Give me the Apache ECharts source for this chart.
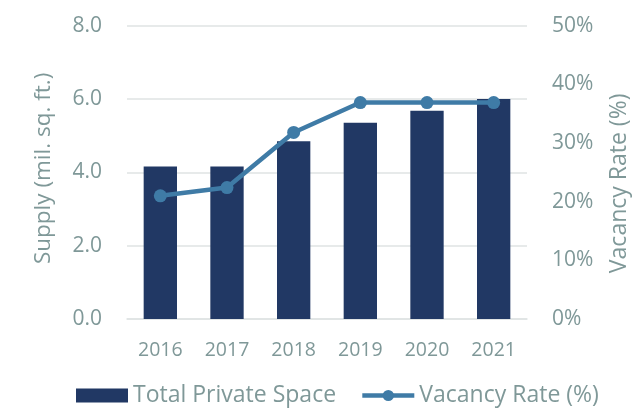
<!DOCTYPE html>
<html><head><meta charset="utf-8">
<script src="https://cdn.jsdelivr.net/npm/echarts@6/dist/echarts.min.js"></script>
<style>html,body{margin:0;padding:0;background:#fff}#c{width:634px;height:408px}</style>
</head><body><div id="c"></div>
<script>
const categories = ['2016','2017','2018','2019','2020','2021'];
const supply = [4.16, 4.16, 4.85, 5.35, 5.68, 6.0];
const vacancy = [21.0, 22.4, 31.8, 36.9, 36.9, 36.9];
const leftTicks = {min:0, max:8, interval:2};
const rightTicks = {min:0, max:50, interval:10};

const txt = '#7f9898';
const font = 'Open Sans';
const lineColor = '#3f7ba6';
const chart = echarts.init(document.getElementById('c'), null, {renderer:'canvas'});
chart.setOption({
  animation:false,
  textStyle:{fontFamily:font},
  grid:{left:127, right:107, top:25.7, bottom:89, containLabel:false, outerBoundsMode:'none'},
  legend:{
    top:380, left:71, itemGap:24, itemWidth:52, itemHeight:14, padding:[4,5,4,5],
    textStyle:{color:txt, fontSize:23, fontFamily:font},
    data:[
      {name:'Total Private Space', icon:'rect'},
      {name:'Vacancy Rate (%)', lineStyle:{width:4.5, color:lineColor}, itemStyle:{color:lineColor}}
    ]
  },
  xAxis:{
    type:'category', data:categories,
    axisLine:{show:true, lineStyle:{color:'#dfe3e3', width:1.5}},
    axisTick:{show:false},
    axisLabel:{color:txt, fontSize:19.5, margin:21, fontFamily:font}
  },
  yAxis:[
    {type:'value', min:leftTicks.min, max:leftTicks.max, interval:leftTicks.interval,
     name:'Supply (mil. sq. ft.)', nameLocation:'middle', nameGap:72, nameRotate:90,
     nameTextStyle:{color:txt, fontSize:22.5, fontFamily:font, padding:[0,0,0,8]},
     axisLabel:{color:txt, fontSize:21, margin:25, formatter:v=>v.toFixed(1), fontFamily:font},
     axisLine:{show:false}, axisTick:{show:false},
     splitLine:{lineStyle:{color:'#dfe3e3', width:1.5}}},
    {type:'value', min:rightTicks.min, max:rightTicks.max, interval:rightTicks.interval,
     name:'Vacancy Rate (%)', nameLocation:'middle', nameGap:81, nameRotate:90,
     nameTextStyle:{color:txt, fontSize:23, fontFamily:font, padding:[0,22,0,0]},
     axisLabel:{color:txt, fontSize:21, margin:25, formatter:v=>v+'%', fontFamily:font},
     axisLine:{show:false}, axisTick:{show:false}, splitLine:{show:false}}
  ],
  series:[
    {name:'Total Private Space', type:'bar', data:supply, barWidth:'50%', yAxisIndex:0,
     itemStyle:{color:'#213864'}},
    {name:'Vacancy Rate (%)', type:'line', data:vacancy, yAxisIndex:1,
     lineStyle:{color:lineColor, width:4.5}, itemStyle:{color:lineColor},
     symbol:'circle', symbolSize:13, showSymbol:true}
  ]
});
</script></body></html>
